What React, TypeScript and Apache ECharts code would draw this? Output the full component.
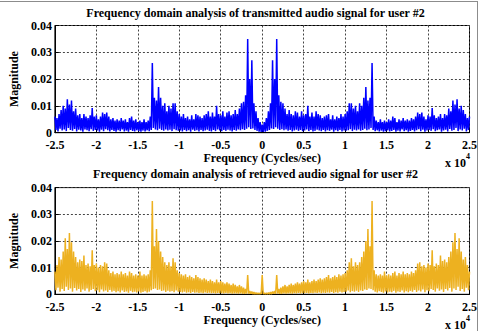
import React, { useEffect, useRef } from "react";
import * as echarts from "echarts";

// Frequency axis in units of 10^4 Cycles/sec
const FREQ_START = -2.5;
const FREQ_STEP = 0.025;
// Magnitudes below are written in units of 10^-3
const UNIT = 0.001;

const TITLE_TOP = "Frequency domain analysis of transmitted audio signal for user #2";
const TITLE_BOTTOM = "Frequency domain analysis of retrieved audio signal for user #2";
const X_NAME = "Frequency (Cycles/sec)";
const Y_NAME = "Magnitude";

// Transmitted spectrum: per-bin upper envelope (201 bins, -2.5 .. 2.5)
const transmittedPeaks = [
  6.0, 5.5, 7.0, 8.5, 10.0, 9.0, 12.5, 10.5, 12.0, 8.0,
  9.0, 6.5, 7.0, 5.5, 7.0, 6.0, 5.5, 6.5, 9.2, 6.0,
  6.5, 5.0, 6.0, 7.5, 7.0, 7.5, 6.0, 5.0, 5.5, 4.5,
  5.0, 4.5, 5.5, 4.5, 5.0, 4.0, 5.5, 6.0, 4.5, 5.0,
  4.0, 4.5, 4.0, 5.0, 4.0, 4.5, 6.0, 26.0, 13.0, 12.0,
  17.0, 13.0, 10.0, 11.0, 8.0, 10.0, 9.0, 11.0, 11.0, 8.0,
  7.0, 6.0, 7.0, 5.5, 6.0, 5.0, 6.5, 5.0, 7.0, 6.5,
  6.0, 5.5, 6.5, 7.0, 8.0, 6.0, 7.5, 6.0, 10.0, 7.0,
  6.5, 8.0, 6.0, 7.5, 8.0, 6.5, 7.0, 8.5, 7.0, 9.0,
  11.0, 11.5, 14.0, 35.0, 20.0, 27.0, 11.0, 8.0, 5.5, 4.0,
  3.0,
  4.0, 5.5, 8.0, 11.0, 27.0, 20.0, 35.0, 14.0, 11.5, 11.0,
  9.0, 7.0, 8.5, 7.0, 6.5, 8.0, 7.5, 6.0, 8.0, 6.5,
  7.0, 10.0, 6.0, 7.5, 6.0, 8.0, 7.0, 6.5, 5.5, 6.0,
  6.5, 7.0, 5.0, 6.5, 5.0, 6.0, 5.5, 7.0, 6.0, 7.0,
  8.0, 11.0, 11.0, 9.0, 10.0, 8.0, 11.0, 10.0, 13.0, 17.0,
  12.0, 13.0, 26.0, 6.0, 4.5, 4.0, 5.0, 4.0, 4.5, 4.0,
  5.0, 4.5, 6.0, 5.5, 4.0, 5.0, 4.5, 5.5, 4.5, 5.0,
  4.5, 5.5, 5.0, 6.0, 7.5, 7.0, 7.5, 6.0, 5.0, 6.5,
  6.0, 9.2, 6.5, 5.5, 6.0, 7.0, 5.5, 7.0, 6.5, 9.0,
  8.0, 12.0, 10.5, 12.5, 9.0, 10.0, 8.5, 7.0, 5.5, 6.0,
];

// Transmitted spectrum: minima between bins (200 values)
const transmittedLows = [
  1.0, 0.5, 1.5, 0.8, 1.2, 0.6, 1.8, 1.0, 0.7, 1.4,
  0.5, 1.1, 0.8, 0.4, 1.2, 0.9, 0.6, 1.3, 0.7, 1.0,
  0.8, 0.4, 1.1, 0.6, 1.3, 0.9, 0.5, 1.0, 0.7, 0.4,
  0.9, 0.6, 1.2, 0.5, 0.8, 0.4, 1.0, 0.7, 0.5, 0.9,
  0.6, 0.4, 0.8, 0.5, 0.9, 0.6, 1.0, 1.8, 1.2, 0.9,
  1.5, 1.0, 0.7, 1.2, 0.8, 1.1, 0.6, 1.3, 0.9, 0.7,
  0.8, 0.5, 1.0, 0.6, 0.9, 0.4, 1.1, 0.7, 0.9, 0.5,
  1.0, 0.6, 0.8, 1.1, 0.7, 0.5, 1.0, 0.6, 1.2, 0.8,
  0.6, 1.0, 0.7, 1.1, 0.8, 0.5, 1.0, 0.7, 1.2, 0.9,
  1.3, 1.0, 1.5, 2.0, 1.4, 1.6, 1.0, 0.7, 0.4, 0.3,
  0.3, 0.4, 0.7, 1.0, 1.6, 1.4, 2.0, 1.5, 1.0, 1.3,
  0.9, 1.2, 0.7, 1.0, 0.5, 0.8, 1.1, 0.7, 1.0, 0.6,
  0.8, 1.2, 0.6, 1.0, 0.5, 0.7, 1.1, 0.8, 0.6, 1.0,
  0.5, 0.9, 0.7, 1.1, 0.4, 0.9, 0.6, 1.0, 0.5, 0.8,
  0.7, 0.9, 1.3, 0.6, 1.1, 0.8, 1.2, 0.7, 1.0, 1.5,
  0.9, 1.2, 1.8, 1.0, 0.6, 0.9, 0.5, 0.8, 0.4, 0.6,
  0.9, 0.5, 0.7, 1.0, 0.4, 0.8, 0.5, 1.2, 0.6, 0.9,
  0.4, 0.7, 1.0, 0.5, 0.9, 1.3, 0.6, 1.1, 0.4, 0.8,
  1.0, 0.7, 1.3, 0.6, 0.9, 1.2, 0.4, 0.8, 1.1, 0.5,
  1.4, 0.7, 1.0, 1.8, 0.6, 1.2, 0.8, 1.5, 0.5, 1.0,
];

// Retrieved spectrum: per-bin upper envelope (201 bins)
const retrievedPeaks = [
  8.5, 11.0, 14.0, 13.0, 16.0, 21.0, 17.0, 23.0, 19.5, 16.0,
  14.0, 12.0, 13.0, 12.5, 14.5, 11.0, 11.5, 10.5, 16.5, 11.0,
  11.5, 10.0, 11.0, 10.5, 12.0, 11.5, 9.0, 8.0, 8.5, 7.5,
  8.0, 7.5, 8.5, 7.5, 8.0, 7.0, 8.5, 8.0, 7.0, 7.5,
  7.0, 8.5, 7.0, 7.5, 7.0, 7.5, 9.0, 35.0, 18.0, 24.5,
  20.0, 16.0, 14.0, 12.0, 11.0, 12.0, 10.5, 13.5, 12.0, 9.0,
  8.0, 7.5, 7.0, 7.5, 6.5, 7.0, 6.5, 6.0, 7.2, 6.5,
  6.0, 5.5, 6.0, 5.5, 5.0, 5.5, 5.0, 4.5, 5.5, 4.5,
  5.0, 4.5, 4.0, 4.5, 4.0, 3.5, 4.0, 3.5, 3.0, 3.5,
  3.0, 2.5, 2.0, 7.2, 1.2, 1.0, 0.8, 0.6, 0.5, 0.5,
  7.2,
  0.5, 0.5, 0.6, 0.8, 1.0, 1.2, 7.2, 2.0, 2.5, 3.0,
  3.5, 3.0, 3.5, 4.0, 3.5, 4.0, 4.5, 4.0, 4.5, 5.0,
  4.5, 5.5, 4.5, 5.0, 5.5, 5.0, 5.5, 6.0, 5.5, 6.0,
  6.5, 7.2, 6.0, 6.5, 7.0, 6.5, 7.5, 7.0, 7.5, 8.0,
  9.0, 12.0, 13.5, 10.5, 12.0, 11.0, 12.0, 14.0, 16.0, 20.0,
  24.5, 18.0, 35.0, 9.0, 7.5, 7.0, 7.5, 7.0, 8.5, 7.0,
  7.5, 7.0, 8.0, 8.5, 7.0, 8.0, 7.5, 8.5, 7.5, 8.0,
  7.5, 8.5, 8.0, 9.0, 11.5, 12.0, 10.5, 11.0, 10.0, 11.5,
  11.0, 16.5, 10.5, 11.5, 11.0, 14.5, 12.5, 13.0, 12.0, 14.0,
  16.0, 19.5, 23.0, 17.0, 21.0, 16.0, 13.0, 14.0, 11.0, 8.5,
];

// Retrieved spectrum: minima between bins (200 values)
const retrievedLows = [
  1.5, 2.5, 1.0, 2.0, 1.2, 2.8, 1.6, 2.2, 1.0, 2.4,
  1.4, 2.0, 0.9, 1.8, 1.3, 2.2, 1.0, 1.6, 2.0, 1.2,
  1.5, 0.8, 1.8, 1.1, 1.4, 0.9, 1.6, 1.0, 1.3, 0.8,
  1.2, 0.7, 1.4, 0.9, 1.1, 0.6, 1.3, 0.8, 1.0, 0.7,
  1.1, 0.6, 0.9, 1.2, 0.7, 1.0, 1.5, 2.0, 2.2, 1.6,
  1.8, 1.2, 1.4, 0.9, 1.3, 1.0, 1.2, 0.8, 1.4, 1.0,
  0.9, 0.7, 1.0, 0.6, 0.8, 0.5, 0.9, 0.6, 0.7, 0.5,
  0.6, 0.4, 0.7, 0.5, 0.6, 0.4, 0.5, 0.3, 0.5, 0.4,
  0.4, 0.3, 0.5, 0.3, 0.4, 0.2, 0.3, 0.3, 0.2, 0.3,
  0.2, 0.2, 0.3, 0.2, 0.2, 0.1, 0.1, 0.1, 0.1, 0.1,
  0.1, 0.1, 0.1, 0.1, 0.1, 0.2, 0.2, 0.3, 0.2, 0.2,
  0.3, 0.2, 0.3, 0.3, 0.2, 0.4, 0.3, 0.5, 0.3, 0.4,
  0.4, 0.5, 0.3, 0.5, 0.4, 0.6, 0.5, 0.7, 0.4, 0.6,
  0.5, 0.7, 0.6, 0.9, 0.5, 0.8, 0.6, 1.0, 0.7, 0.9,
  1.0, 1.4, 0.8, 1.2, 1.0, 1.3, 0.9, 1.4, 1.2, 1.8,
  1.6, 2.2, 2.0, 1.5, 1.0, 0.7, 1.2, 0.9, 0.6, 1.1,
  0.7, 1.0, 0.8, 1.3, 0.6, 1.1, 0.9, 1.4, 0.7, 1.2,
  0.8, 1.3, 1.0, 1.6, 0.9, 1.4, 1.1, 1.8, 0.8, 1.5,
  1.2, 2.0, 1.6, 1.0, 2.2, 1.3, 1.8, 0.9, 2.0, 1.4,
  2.4, 1.0, 2.2, 1.6, 2.8, 1.2, 2.0, 1.0, 2.5, 1.5,
];

const BLUE = "#0000FF";
const GOLD = "#EDB120";
const FONT = "'Liberation Serif', 'Times New Roman', serif";

function buildSeriesData(peaks: number[], lows: number[]) {
  const pts: number[][] = [];
  for (let i = 0; i < peaks.length; i++) {
    const f = FREQ_START + i * FREQ_STEP;
    pts.push([f, peaks[i] * UNIT]);
    if (i < lows.length) pts.push([f + FREQ_STEP / 2, lows[i] * UNIT]);
  }
  return pts;
}

const textStyle = { fontFamily: FONT, fontWeight: "bold" as const, fontSize: 12, color: "#000" };

function xAxisFor(gridIndex: number) {
  return {
    gridIndex,
    type: "value",
    min: -2.5,
    max: 2.5,
    interval: 0.5,
    axisLine: { show: true, onZero: false, lineStyle: { color: "#000", width: 1 } },
    axisTick: { show: true, inside: true, length: 4, lineStyle: { color: "#000" } },
    axisLabel: { ...textStyle, lineHeight: 11, margin: 7, showMinLabel: true, showMaxLabel: true },
    splitLine: { show: true, lineStyle: { color: "#444", type: [2, 2], width: 1 } },
    name: X_NAME,
    nameLocation: "middle",
    nameGap: 18,
    nameTextStyle: textStyle,
  };
}

function yAxisFor(gridIndex: number) {
  return {
    gridIndex,
    type: "value",
    min: 0,
    max: 0.04,
    interval: 0.01,
    axisLine: { show: true, onZero: false, lineStyle: { color: "#000", width: 1 } },
    axisTick: { show: true, inside: true, length: 4, lineStyle: { color: "#000" } },
    axisLabel: {
      ...textStyle,
      lineHeight: 10,
      margin: 3,
      formatter: (v: number) => (v === 0 ? "0" : v.toFixed(2)),
    },
    splitLine: { show: true, lineStyle: { color: "#444", type: [2, 2], width: 1 } },
    name: Y_NAME,
    nameLocation: "middle",
    nameGap: 28,
    nameTextStyle: textStyle,
  };
}

export default function App() {
  const ref = useRef<HTMLDivElement>(null);
  useEffect(() => {
    if (!ref.current) return;
    const chart = echarts.init(ref.current, undefined, { renderer: "svg" });
    const option: any = {
      animation: false,
      backgroundColor: "#ffffff",
      grid: [
        { left: 41, right: 10, top: 25.5, height: 107.2, show: true, borderColor: "#000", borderWidth: 1, backgroundColor: "transparent" },
        { left: 41, right: 10, top: 187.6, height: 106.7, show: true, borderColor: "#000", borderWidth: 1, backgroundColor: "transparent" },
      ],
      xAxis: [xAxisFor(0), xAxisFor(1)],
      yAxis: [yAxisFor(0), yAxisFor(1)],
      series: [
        {
          name: "Transmitted",
          type: "line",
          xAxisIndex: 0,
          yAxisIndex: 0,
          data: buildSeriesData(transmittedPeaks, transmittedLows),
          showSymbol: false,
          symbol: "none",
          lineStyle: { color: BLUE, width: 1.5 },
          itemStyle: { color: BLUE },
          silent: true,
        },
        {
          name: "Retrieved",
          type: "line",
          xAxisIndex: 1,
          yAxisIndex: 1,
          data: buildSeriesData(retrievedPeaks, retrievedLows),
          showSymbol: false,
          symbol: "none",
          lineStyle: { color: GOLD, width: 1.5 },
          itemStyle: { color: GOLD },
          silent: true,
        },
      ],
      graphic: [
        { type: "line", shape: { x1: 0, y1: 1.5, x2: 478, y2: 1.5 }, style: { stroke: "#8c8c8c", lineWidth: 1 } },
        { type: "line", shape: { x1: 477.5, y1: 1.5, x2: 477.5, y2: 331 }, style: { stroke: "#8c8c8c", lineWidth: 1 } },
        { type: "text", x: 255.5, y: 12.5, style: { text: TITLE_TOP, align: "center", verticalAlign: "middle", fontFamily: FONT, fontWeight: "bold", fontSize: 12, fill: "#000" } },
        { type: "text", x: 255.5, y: 173.5, style: { text: TITLE_BOTTOM, align: "center", verticalAlign: "middle", fontFamily: FONT, fontWeight: "bold", fontSize: 12, fill: "#000" } },
        { type: "text", x: 445, y: 162.5, style: { text: "x 10", align: "left", verticalAlign: "middle", fontFamily: FONT, fontWeight: "bold", fontSize: 12, fill: "#000" } },
        { type: "text", x: 466, y: 156, style: { text: "4", align: "left", verticalAlign: "middle", fontFamily: FONT, fontWeight: "bold", fontSize: 8, fill: "#000" } },
        { type: "text", x: 445, y: 324.5, style: { text: "x 10", align: "left", verticalAlign: "middle", fontFamily: FONT, fontWeight: "bold", fontSize: 12, fill: "#000" } },
        { type: "text", x: 466, y: 318, style: { text: "4", align: "left", verticalAlign: "middle", fontFamily: FONT, fontWeight: "bold", fontSize: 8, fill: "#000" } },
      ],
    };
    chart.setOption(option);
    return () => chart.dispose();
  }, []);
  return (
    <div
      ref={ref}
      style={{ position: "fixed", left: 0, top: 0, width: 480, height: 331, background: "#fff" }}
    />
  );
}
